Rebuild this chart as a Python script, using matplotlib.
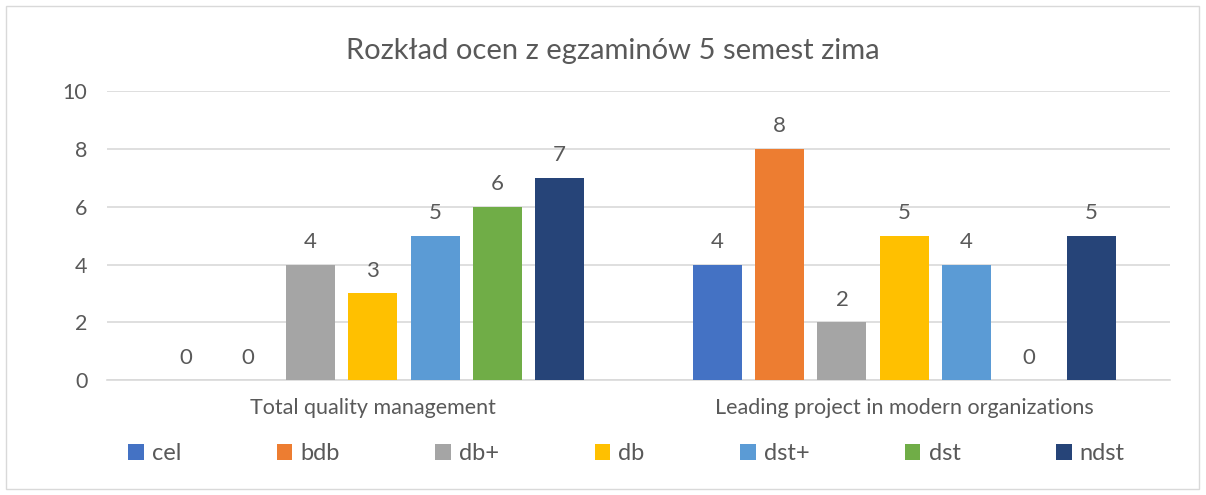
import matplotlib.pyplot as plt
import matplotlib as mpl
import numpy as np
from matplotlib.patches import Rectangle

mpl.rcParams['font.family'] = ['Lato', 'DejaVu Sans']

# data
courses = ['Total quality management', 'Leading project in modern organizations']
grades = ['cel', 'bdb', 'db+', 'db', 'dst+', 'dst', 'ndst']
counts_tqm = [0, 0, 4, 3, 5, 6, 7]
counts_lp = [4, 8, 2, 5, 4, 0, 5]
colors = ['#4472C4', '#ED7D31', '#A5A5A5', '#FFC000', '#5B9BD5', '#70AD47', '#264478']

text_col = '#595959'
grid_col = '#D9D9D9'

fig = plt.figure(figsize=(12.06, 4.95), dpi=100)
ax = fig.add_axes([0.0887, 0.232, 0.8815, 0.584])

# outer chart border
fig.patches.append(Rectangle((6 / 1206, 6 / 495), 1193 / 1206, 483 / 495,
                             transform=fig.transFigure, fill=False,
                             edgecolor='#D9D9D9', linewidth=1.0))

x = np.arange(len(courses))
step = 0.1172
width = 0.0922
for i, g in enumerate(grades):
    vals = [counts_tqm[i], counts_lp[i]]
    pos = x + (i - 3) * step
    ax.bar(pos, vals, width=width, color=colors[i], label=g, zorder=3)
    for p, v in zip(pos, vals):
        ax.annotate(str(v), (p, v), xytext=(0, 9), textcoords='offset points',
                    ha='center', va='bottom', fontsize=16, color=text_col)

ax.set_xlim(-0.5, 1.5)
ax.set_ylim(0, 10)
ax.set_yticks(range(0, 11, 2))
ax.set_xticks(x)
ax.set_xticklabels(courses)
ax.tick_params(axis='both', length=0, labelsize=15.5, colors=text_col)
ax.tick_params(axis='y', pad=14)
ax.tick_params(axis='x', pad=13)
ax.grid(axis='y', color=grid_col, linewidth=1.2, zorder=0)
for s in ['top', 'right', 'left']:
    ax.spines[s].set_visible(False)
ax.spines['bottom'].set_color(grid_col)
ax.spines['bottom'].set_linewidth(1.2)

fig.text(0.508, 0.897, 'Rozkład ocen z egzaminów 5 semest zima', ha='center', va='center',
         fontsize=21, color=text_col)

fig.legend(loc='center', bbox_to_anchor=(0.5195, 0.083), ncol=7, frameon=False,
           fontsize=17, labelcolor=text_col, handlelength=0.65, handleheight=0.65,
           handletextpad=0.35, columnspacing=4.05)

plt.savefig('out.png', dpi=100)
